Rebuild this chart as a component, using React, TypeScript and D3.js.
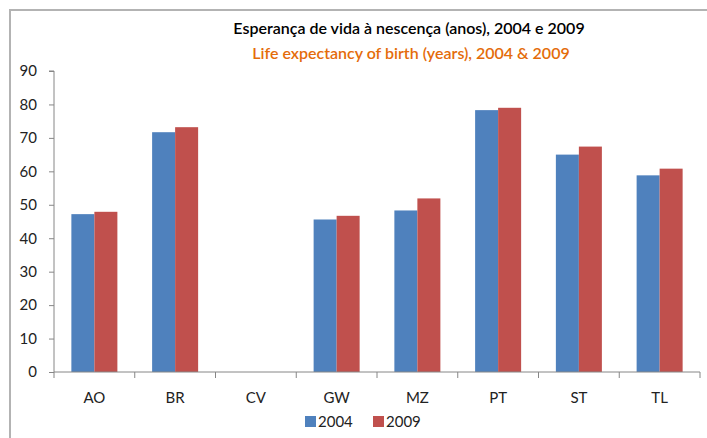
import * as d3 from 'd3'
import React, { useEffect, useRef } from 'react'

const categories = ['AO', 'BR', 'CV', 'GW', 'MZ', 'PT', 'ST', 'TL']
const seriesNames = ['2004', '2009']
const values2004: (number | null)[] = [47.2, 71.7, null, 45.6, 48.3, 78.3, 65.0, 58.8]
const values2009: (number | null)[] = [47.9, 73.2, null, 46.7, 51.9, 79.0, 67.4, 60.8]
const yTicks = [0, 10, 20, 30, 40, 50, 60, 70, 80, 90]
const colors = ['#4F81BD', '#C0504D']

const W = 707
const H = 438

const App: React.FC = () => {
  const svgRef = useRef<SVGSVGElement>(null)

  useEffect(() => {
    if (!svgRef.current) return
    const svg = d3.select(svgRef.current)
    svg.selectAll('*').remove()

    const font = 'Lato, "Open Sans", sans-serif'
    const plot = { left: 54, right: 700, top: 71, bottom: 372 }

    // chart frame (cut off on the right and bottom like the screenshot)
    svg.append('rect')
      .attr('x', 10).attr('y', 10)
      .attr('width', 760).attr('height', 500)
      .attr('fill', '#fff')
      .attr('stroke', '#b3b3b3')
      .attr('stroke-width', 2)

    // titles
    svg.append('text')
      .attr('x', 409).attr('y', 34)
      .attr('text-anchor', 'middle')
      .style('font-family', font)
      .style('font-size', '16px')
      .style('font-weight', '600')
      .style('fill', '#000')
      .text('Esperança de vida à nescença (anos), 2004 e 2009')

    svg.append('text')
      .attr('x', 411).attr('y', 59)
      .attr('text-anchor', 'middle')
      .style('font-family', font)
      .style('font-size', '16px')
      .style('font-weight', '600')
      .style('fill', '#E46C0A')
      .text('Life expectancy of birth (years), 2004 & 2009')

    const x0 = d3.scaleBand().domain(categories).range([plot.left, plot.right]).paddingInner(0).paddingOuter(0)
    const x1 = d3.scaleBand().domain(seriesNames)
      .range([0, x0.bandwidth()]).paddingInner(0).paddingOuter(0.755)
    const y = d3.scaleLinear().domain([0, 90]).range([plot.bottom, plot.top])

    const series = [values2004, values2009]

    // bars
    series.forEach((vals, si) => {
      svg.append('g').selectAll('rect')
        .data(categories.map((c, i) => ({ c, v: vals[i] })).filter(d => d.v !== null))
        .join('rect')
        .attr('x', d => (x0(d.c) ?? 0) + (x1(seriesNames[si]) ?? 0))
        .attr('y', d => y(d.v as number))
        .attr('width', x1.bandwidth())
        .attr('height', d => plot.bottom - y(d.v as number))
        .attr('fill', colors[si])
    })

    // y axis
    const yAxis = d3.axisLeft(y).tickValues(yTicks).tickSize(5).tickPadding(12)
    const gy = svg.append('g').attr('transform', `translate(${plot.left},0)`).call(yAxis)
    gy.select('.domain').attr('stroke', '#868686').attr('d', `M-5,${plot.top}H0V${plot.bottom}`)
    gy.selectAll('.tick line').attr('stroke', '#868686')
    gy.selectAll('.tick text')
      .style('font-family', font)
      .style('font-size', '15px')
      .style('fill', '#222')

    // x axis: ticks between categories
    const gx = svg.append('g')
    gx.append('line')
      .attr('x1', plot.left).attr('x2', plot.right)
      .attr('y1', plot.bottom).attr('y2', plot.bottom)
      .attr('stroke', '#868686')
    const bounds = categories.map(c => x0(c) as number).concat([plot.right])
    gx.selectAll('line.tk')
      .data(bounds)
      .join('line')
      .attr('class', 'tk')
      .attr('x1', d => d).attr('x2', d => d)
      .attr('y1', plot.bottom).attr('y2', plot.bottom + 6)
      .attr('stroke', '#868686')
    gx.selectAll('text')
      .data(categories)
      .join('text')
      .attr('x', d => (x0(d) as number) + x0.bandwidth() / 2)
      .attr('y', 403)
      .attr('text-anchor', 'middle')
      .style('font-family', font)
      .style('font-size', '15px')
      .style('fill', '#222')
      .text(d => d)

    // legend
    const legend = svg.append('g')
    const legendX = [305, 373]
    seriesNames.forEach((name, i) => {
      legend.append('rect')
        .attr('x', legendX[i]).attr('y', 416)
        .attr('width', 11).attr('height', 11)
        .attr('fill', colors[i])
      legend.append('text')
        .attr('x', legendX[i] + 13).attr('y', 427)
        .style('font-family', font)
        .style('font-size', '15px')
        .style('fill', '#222')
        .text(name)
    })
  }, [])

  return (
    <svg
      ref={svgRef}
      width={W}
      height={H}
      style={{ position: 'absolute', left: 0, top: 0, background: '#fff' }}
    />
  )
}

export default App
